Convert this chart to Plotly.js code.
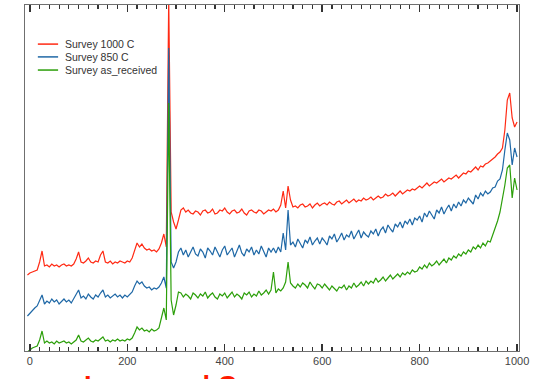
<!DOCTYPE html>
<html>
<head>
<meta charset="utf-8">
<script src="https://cdn.plot.ly/plotly-3.0.1.min.js"></script>
<style>html,body{margin:0;padding:0;background:#fff;}</style>
</head>
<body>
<div id="chart"></div>
<script>
// Binding energy (x) and intensities (arbitrary units)
const energy = [
 -5,0,5,10,15,20,25,30,35,40,45,50,55,60,65,70,75,80,85,90,
 95,100,105,110,115,120,125,130,135,140,145,150,155,160,165,170,175,180,185,190,
 195,200,205,210,215,220,225,230,235,240,245,250,255,260,265,270,275,280,285,290,
 295,300,305,310,315,320,325,330,335,340,345,350,355,360,365,370,375,380,385,390,
 395,400,405,410,415,420,425,430,435,440,445,450,455,460,465,470,475,480,485,490,
 495,500,505,510,515,520,525,530,535,540,545,550,555,560,565,570,575,580,585,590,
 595,600,605,610,615,620,625,630,635,640,645,650,655,660,665,670,675,680,685,690,
 695,700,705,710,715,720,725,730,735,740,745,750,755,760,765,770,775,780,785,790,
 795,800,805,810,815,820,825,830,835,840,845,850,855,860,865,870,875,880,885,890,
 895,900,905,910,915,920,925,930,935,940,945,950,955,960,965,970,975,980,985,990,
 995,1000
];

const survey1000C = [
 76,78,79,80,81,89,100,85,86,84,87,85,86,84,86,87,85,86,85,87,
 92,99,89,88,90,93,89,88,90,89,96,100,89,88,90,87,89,88,90,89,
 88,90,89,93,101,108,104,107,103,101,102,100,101,99,102,108,117,104,352,139,
 129,122,131,141,143,139,141,138,137,140,139,136,140,141,138,139,142,137,138,141,
 140,143,139,137,140,141,138,139,142,138,136,140,141,139,138,141,140,137,139,141,
 140,142,139,141,146,160,143,165,151,144,145,143,146,147,144,145,147,143,146,148,
 145,147,148,146,149,147,146,149,150,147,149,151,148,150,152,149,151,150,153,151,
 152,154,151,153,155,153,154,157,155,156,158,155,158,160,157,159,161,160,162,161,
 163,165,163,166,168,165,167,169,168,170,172,169,171,173,172,174,176,173,176,178,
 177,180,179,182,184,181,185,184,187,188,190,192,194,197,199,203,221,251,258,233,
 224,229
];

const survey850C = [
 35,38,41,43,45,51,56,47,50,48,52,49,51,47,50,52,49,51,48,52,
 56,61,53,55,52,57,54,52,56,54,58,61,54,56,53,55,57,54,56,53,
 56,54,57,59,65,70,67,69,65,63,64,61,63,62,64,68,74,63,303,89,
 83,89,99,103,96,101,94,99,104,97,95,102,99,93,103,100,96,104,98,94,
 101,105,96,99,103,94,100,106,98,95,102,99,104,96,101,97,105,99,94,103,
 99,103,98,104,99,118,101,141,106,109,104,112,107,103,111,108,114,106,110,113,
 107,113,110,106,115,112,117,109,113,118,111,116,114,120,112,117,121,113,119,116,
 114,120,117,122,115,121,124,118,126,122,119,127,124,129,123,130,127,132,126,133,
 131,135,129,138,134,140,136,132,141,138,144,137,142,146,140,147,143,149,145,151,
 148,153,150,147,156,152,158,155,160,157,159,163,164,170,172,181,201,218,211,186,
 203,194
];

const surveyAsReceived = [
 -1,1,3,4,5,11,20,8,10,8,9,7,10,8,9,10,8,9,7,9,
 11,16,10,9,11,13,10,9,11,10,12,14,10,11,9,11,10,12,10,11,
 10,12,11,13,18,24,21,23,20,21,19,22,20,21,23,33,43,31,248,51,
 36,46,59,58,54,57,55,52,58,56,53,57,55,59,53,56,58,54,52,57,
 55,58,53,56,59,54,57,55,52,58,56,59,54,57,55,60,56,58,61,57,
 61,79,58,62,60,63,69,89,68,65,63,67,64,68,66,63,69,65,62,67,
 66,63,67,64,61,65,62,60,64,63,66,61,65,63,68,64,66,69,65,70,
 67,70,68,73,69,71,74,70,73,76,72,75,77,74,78,76,79,77,81,79,
 80,84,82,86,83,88,85,87,90,86,89,92,88,93,91,95,93,97,95,99,
 97,101,99,104,102,106,103,108,105,110,109,116,121,130,139,151,166,183,186,153,
 173,161
];

const seriesNames = ["Survey 1000 C", "Survey 850 C", "Survey as_received"];
const seriesColors = ["#ff2a14", "#1f68a6", "#2c9f0a"];
const captionText = "Increased C";

const seriesValues = [survey1000C, survey850C, surveyAsReceived];
const traces = seriesValues.map((vals, i) => ({
  type: "scatter",
  mode: "lines",
  x: energy,
  y: vals,
  name: seriesNames[i],
  line: {color: seriesColors[i], width: 1.2}
}));

// Compact legend (line samples + labels), placed in paper coordinates
const legendX0 = 0.026, legendX1 = 0.067, legendTextX = 0.077;
const legendY = [0.887, 0.850, 0.812];
const shapes = seriesNames.map((n, i) => ({
  type: "line", xref: "paper", yref: "paper",
  x0: legendX0, x1: legendX1, y0: legendY[i], y1: legendY[i],
  line: {color: seriesColors[i], width: 1.5}
}));
const annotations = seriesNames.map((n, i) => ({
  text: n, xref: "paper", yref: "paper",
  x: legendTextX, y: legendY[i], xanchor: "left", yanchor: "middle",
  showarrow: false,
  font: {family: "Liberation Sans, Arial, sans-serif", size: 10.5, color: "#333"}
}));
annotations.push({
  text: "<b>" + captionText + "</b>",
  xref: "paper", yref: "paper",
  x: 0.115, y: -0.052,
  xanchor: "left", yanchor: "top",
  showarrow: false,
  font: {family: "Liberation Sans, Arial, sans-serif", size: 27, color: "#ff1a00"}
});

const layout = {
  width: 537,
  height: 379,
  margin: {l: 25, r: 18, t: 5, b: 28},
  font: {family: "Liberation Sans, Arial, sans-serif", color: "#333"},
  showlegend: false,
  xaxis: {
    range: [-10, 1004],
    dtick: 200,
    ticks: "inside",
    ticklen: 7,
    tickwidth: 1.5,
    tickcolor: "#333",
    showline: true,
    linecolor: "#6f6f6f",
    mirror: "ticks",
    showgrid: false,
    zeroline: false,
    tickfont: {size: 11, color: "#444"},
    minor: {dtick: 20, ticks: "inside", ticklen: 4, tickwidth: 1.2, tickcolor: "#333"}
  },
  yaxis: {
    range: [0, 346],
    showticklabels: false,
    showline: true,
    linecolor: "#6f6f6f",
    mirror: true,
    showgrid: false,
    zeroline: false
  },
  shapes: shapes,
  annotations: annotations
};

Plotly.newPlot("chart", traces, layout, {displayModeBar: false, staticPlot: true});
</script>
</body>
</html>
